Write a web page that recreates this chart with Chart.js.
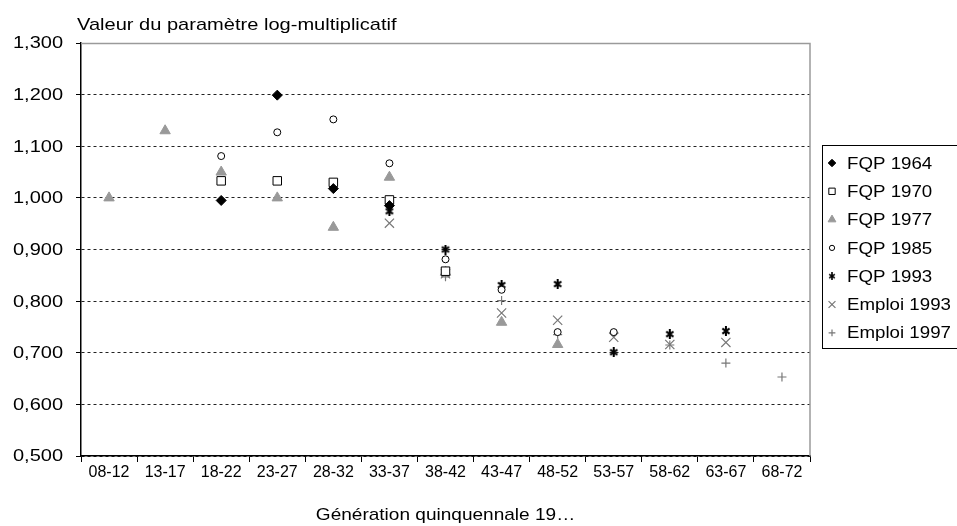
<!DOCTYPE html>
<html>
<head>
<meta charset="utf-8">
<script src="https://cdn.jsdelivr.net/npm/chart.js@4/dist/chart.umd.min.js"></script>
<style>
  html, body { margin: 0; padding: 0; background: #fff; }
  #wrap { width: 957px; height: 526px; position: relative; }
</style>
</head>
<body>
<div id="wrap"><canvas id="myChart"></canvas></div>
<script>
// data
const generations = ['08-12', '13-17', '18-22', '23-27', '28-32', '33-37', '38-42', '43-47', '48-52', '53-57', '58-62', '63-67', '68-72'];

const fqp1964 = [null, null, 0.995, 1.199, 1.018, 0.985, null, null, null, null, null, null, null];
const fqp1970 = [null, null, 1.033, 1.033, 1.030, 0.996, 0.858, null, null, null, null, null, null];
const fqp1977 = [1.000, 1.130, 1.050, 1.000, 0.943, 1.040, 0.856, 0.759, 0.716, null, null, null, null];
const fqp1985 = [null, null, 1.081, 1.127, 1.152, 1.067, 0.881, 0.822, 0.740, 0.740, null, null, null];
const fqp1993 = [null, null, null, null, null, 0.974, 0.900, 0.831, 0.833, 0.701, 0.736, 0.742, null];
const emploi1993 = [null, null, null, null, null, 0.951, 0.853, 0.777, 0.763, 0.730, 0.716, 0.720, null];
const emploi1997 = [null, null, null, null, null, null, 0.847, 0.801, 0.735, 0.738, 0.715, 0.680, 0.653];

const yTicks = [0.5, 0.6, 0.7, 0.8, 0.9, 1.0, 1.1, 1.2, 1.3];

const yTitle = 'Valeur du paramètre log-multiplicatif';
const xTitle = 'Génération quinquennale 19…';

const FONT = "'Liberation Sans', Arial, sans-serif";

// excel style asterisk : x with a vertical stroke
function asterisk(size, lw) {
  const c = document.createElement('canvas');
  c.width = size; c.height = size;
  const g = c.getContext('2d');
  const m = lw * 0.7, s = size - lw * 0.7;
  g.strokeStyle = '#000';
  g.lineWidth = lw;
  g.beginPath();
  g.moveTo(m, m + 1); g.lineTo(s, s - 1);
  g.moveTo(s, m + 1); g.lineTo(m, s - 1);
  g.moveTo(size / 2, 0); g.lineTo(size / 2, size);
  g.stroke();
  return c;
}
const starBig = asterisk(10, 2);
const starSmall = asterisk(8, 1.6);

function serie(label, data, style, radius, fill, stroke, bw) {
  return {
    label: label,
    data: data,
    showLine: false,
    pointStyle: style,
    pointRadius: radius,
    pointHoverRadius: radius,
    pointBackgroundColor: fill,
    pointBorderColor: stroke,
    pointBorderWidth: bw,
    backgroundColor: fill,
    borderColor: stroke
  };
}

const datasets = [
  serie('FQP 1964', fqp1964, 'rectRot', 5, '#000', '#000', 1),
  serie('FQP 1970', fqp1970, 'rect', 6, '#fff', '#000', 1),
  serie('FQP 1977', fqp1977, 'triangle', 6, '#999', '#999', 1),
  serie('FQP 1985', fqp1985, 'circle', 3.5, '#fff', '#000', 1),
  serie('FQP 1993', fqp1993, starBig, 5, '#000', '#000', 1.6),
  serie('Emploi 1993', emploi1993, 'crossRot', 6.5, '#777', '#777', 1.2),
  serie('Emploi 1997', emploi1997, 'cross', 4.5, '#777', '#777', 1.2)
];

// text drawn a bit wider, like the scanned original
function wideText(ctx, txt, x, y, align, sx) {
  ctx.save();
  const w = ctx.measureText(txt).width * sx;
  let x0 = x;
  if (align === 'center') x0 = x - w / 2;
  if (align === 'right') x0 = x - w;
  ctx.translate(x0, y);
  ctx.scale(sx, 1);
  ctx.textAlign = 'left';
  ctx.fillText(txt, 0, 0);
  ctx.restore();
}

// titles, y labels, grey frame and boxed legend
const decor = {
  id: 'decor',
  beforeDatasetsDraw(chart) {
    const {ctx, chartArea: a} = chart;
    ctx.save();
    ctx.strokeStyle = '#9a9a9a';
    ctx.lineWidth = 1.5;
    ctx.beginPath();
    ctx.moveTo(a.left, a.top + 0.5);
    ctx.lineTo(a.right, a.top + 0.5);
    ctx.lineTo(a.right, a.bottom);
    ctx.stroke();
    ctx.restore();
  },
  afterDraw(chart) {
    const {ctx, chartArea: a} = chart;
    const ys = chart.scales.y;
    ctx.save();
    ctx.fillStyle = '#000';
    ctx.textBaseline = 'middle';

    ctx.font = '16px ' + FONT;
    ys.ticks.forEach(t => {
      const lbl = t.value.toFixed(3).replace('.', ',');
      wideText(ctx, lbl, 63, ys.getPixelForValue(t.value) + 1, 'right', 1.25);
    });

    ctx.font = '17px ' + FONT;
    wideText(ctx, yTitle, 77, 25, 'left', 1.18);
    wideText(ctx, xTitle, (a.left + a.right) / 2, 515, 'center', 1.12);

    // legend
    const lx = 822, ly = 145, lw = 150, lh = 203;
    ctx.strokeStyle = '#000';
    ctx.lineWidth = 1;
    ctx.strokeRect(lx + 0.5, ly + 0.5, lw, lh);
    chart.data.datasets.forEach((ds, i) => {
      const y = 163 + i * 28.3;
      ctx.fillStyle = ds.pointBackgroundColor;
      ctx.strokeStyle = ds.pointBorderColor;
      ctx.lineWidth = ds.pointBorderWidth;
      Chart.helpers.drawPoint(ctx, {
        pointStyle: ds.pointStyle === starBig ? starSmall : ds.pointStyle,
        radius: ds.pointRadius * 0.75,
        rotation: 0,
        borderWidth: ds.pointBorderWidth
      }, 832, y);
      ctx.fillStyle = '#000';
      ctx.font = '17px ' + FONT;
      wideText(ctx, ds.label, 847, y + 1, 'left', 1.1);
    });
    ctx.restore();
  }
};

new Chart(document.getElementById('myChart'), {
  type: 'line',
  data: {
    labels: generations,
    datasets: datasets
  },
  options: {
    responsive: true,
    maintainAspectRatio: false,
    animation: false,
    events: [],
    layout: {
      padding: { top: 43, right: 147, left: 0, bottom: 0 }
    },
    plugins: {
      legend: { display: false },
      title: { display: false },
      tooltip: { enabled: false }
    },
    scales: {
      x: {
        offset: true,
        afterFit: function (scale) { scale.height = 70; },
        grid: {
          offset: true,
          drawOnChartArea: false,
          drawTicks: true,
          tickLength: 6,
          tickColor: '#000',
          tickWidth: 1
        },
        border: { color: '#000', width: 1.5 },
        ticks: {
          color: '#000',
          font: { family: FONT, size: 16 },
          padding: 1,
          maxRotation: 0,
          autoSkip: false
        }
      },
      y: {
        min: yTicks[0],
        max: yTicks[yTicks.length - 1],
        afterFit: function (scale) { scale.width = 81; },
        afterBuildTicks: function (scale) {
          scale.ticks = yTicks.map(v => ({ value: v }));
        },
        grid: {
          color: function (c) {
            if (c.tick && Math.abs(c.tick.value - 1.3) < 1e-6) return 'rgba(0,0,0,0)';
            return '#222';
          },
          lineWidth: 1,
          drawTicks: true,
          tickLength: 5,
          tickColor: '#000',
          tickWidth: 1,
          tickBorderDash: []
        },
        border: { color: '#000', width: 1.5, dash: [3, 3] },
        ticks: {
          display: false
        }
      }
    }
  },
  plugins: [decor]
});
</script>
</body>
</html>
